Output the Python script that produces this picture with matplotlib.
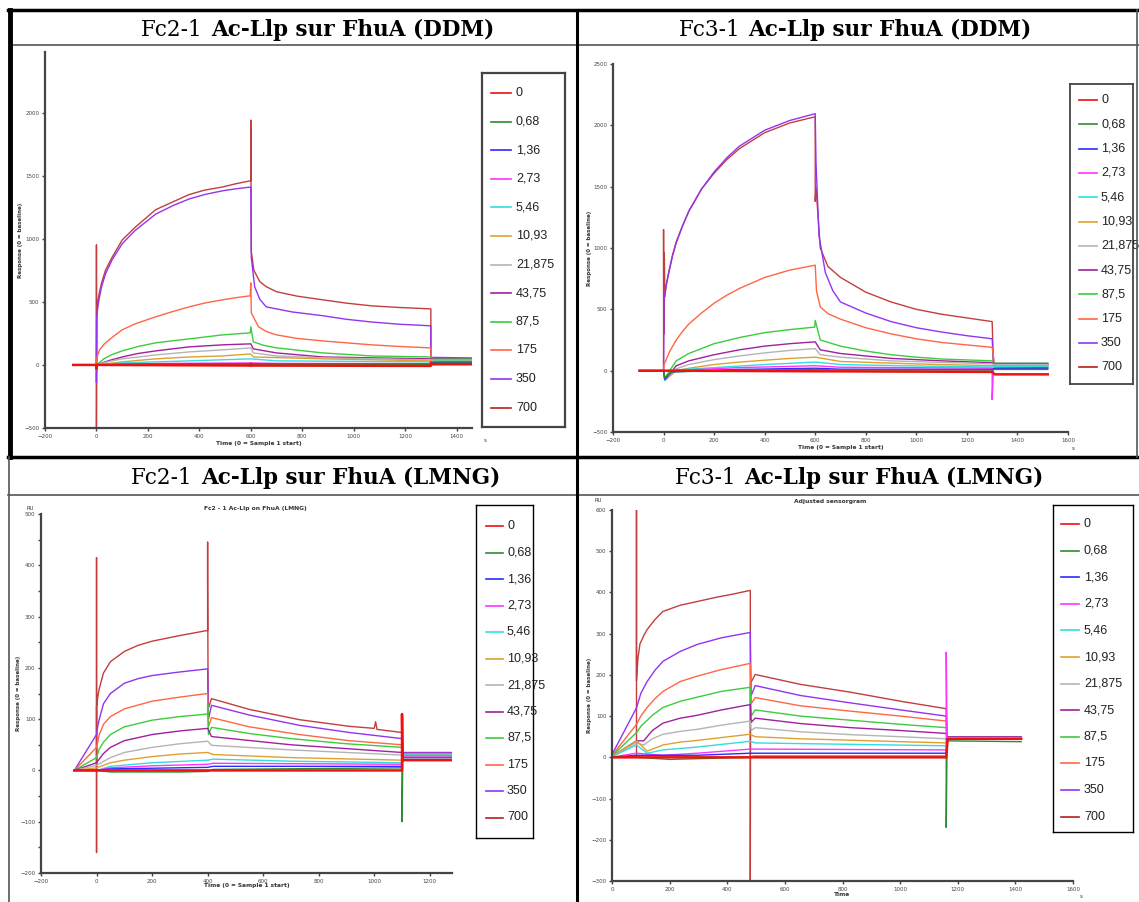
import matplotlib
matplotlib.use("Agg")
import matplotlib.pyplot as plt
from matplotlib.lines import Line2D

W, H = 1139, 902

# concentrations (legend labels) and their trace colours
conc = ["0", "0,68", "1,36", "2,73", "5,46", "10,93", "21,875", "43,75", "87,5", "175", "350", "700"]
colors = ["#ee1111", "#2e8b2e", "#2b2bff", "#ff33ff", "#33dddd", "#e0a030",
          "#b4b4b4", "#a020a0", "#3ccc3c", "#ff6644", "#9433f0", "#b81c1c"]

# --- Fc2-1 DDM : (time s, response RU) per concentration
ddm2 = [
    [(-90, 0), (0, 0), (0, -30), (2, 0), (600, -5), (600, 10), (602, -5), (1300, -8), (1300, 20), (1305, 5), (1460, 5)],
    [(-90, 0), (0, 0), (100, 2), (300, 4), (600, 5), (610, 3), (1300, 2), (1310, 15), (1460, 15)],
    [(-90, 0), (0, 0), (100, 4), (300, 6), (600, 8), (700, 6), (1300, 5), (1310, 20), (1460, 20)],
    [(-90, 0), (0, 0), (100, 8), (300, 12), (600, 16), (700, 12), (1300, 10), (1310, 25), (1460, 25)],
    [(-90, 0), (0, 0), (100, 16), (360, 32), (600, 48), (700, 32), (1000, 28), (1300, 24), (1310, 30), (1460, 30)],
    [(-90, 0), (0, 0), (100, 24), (230, 48), (360, 63), (490, 71), (600, 87), (610, 63), (880, 48), (1300, 32), (1310, 35), (1460, 35)],
    [(-90, 0), (0, 0), (50, 28), (100, 48), (230, 79), (360, 103), (490, 119), (600, 135), (610, 95), (700, 71), (880, 56), (1300, 40), (1310, 40), (1460, 40)],
    [(-90, 0), (0, 0), (50, 35), (100, 63), (160, 90), (230, 111), (360, 143), (490, 159), (600, 167), (610, 127), (700, 95), (880, 63), (1070, 56), (1300, 48), (1310, 45), (1460, 45)],
    [(-90, 0), (0, 0), (30, 50), (60, 82), (100, 111), (160, 145), (230, 175), (300, 192), (360, 206), (490, 238), (598, 254), (600, 302), (610, 183), (650, 155), (700, 135), (880, 95), (1070, 71), (1300, 63), (1310, 50), (1460, 50)],
    [(-90, 0), (0, 0), (2, 60), (12, 120), (30, 165), (50, 200), (75, 240), (100, 278), (150, 325), (230, 381), (300, 425), (360, 460), (420, 490), (490, 516), (550, 535), (598, 548), (600, 650), (602, 413), (630, 302), (660, 265), (700, 238), (780, 210), (880, 190), (1070, 159), (1180, 146), (1300, 135), (1300, 45), (1460, 45)],
    [(-90, 0), (0, 0), (0, -140), (1, 380), (5, 450), (10, 520), (20, 620), (35, 720), (60, 830), (100, 960), (150, 1065), (230, 1195), (300, 1265), (360, 1315), (420, 1350), (490, 1380), (540, 1395), (600, 1410), (602, 850), (615, 620), (635, 520), (660, 460), (760, 420), (880, 390), (970, 362), (1070, 340), (1180, 322), (1300, 310), (1300, 60), (1460, 55)],
    [(-90, 0), (0, 0), (0, 950), (0, -500), (1, 430), (5, 500), (10, 560), (20, 650), (35, 750), (60, 850), (100, 990), (150, 1090), (230, 1230), (300, 1295), (360, 1350), (420, 1385), (490, 1410), (540, 1435), (600, 1460), (600, 1940), (602, 900), (612, 750), (635, 660), (660, 620), (700, 580), (780, 545), (880, 516), (970, 490), (1070, 468), (1180, 455), (1300, 444), (1300, 40), (1460, 40)],
]

# --- Fc3-1 DDM
ddm3 = [
    [(-95, 0), (0, 0), (600, -5), (1300, -10), (1310, -30), (1520, -30)],
    [(-95, 0), (0, 0), (5, -60), (30, -10), (300, 5), (600, 10), (700, 5), (1300, 5), (1310, 10), (1520, 10)],
    [(-95, 0), (0, 0), (5, -70), (30, -10), (300, 10), (600, 20), (700, 12), (1300, 10), (1310, 20), (1520, 20)],
    [(-95, 0), (0, 0), (5, -70), (40, 0), (300, 25), (600, 40), (700, 28), (1300, 20), (1300, -236), (1305, 20), (1520, 25)],
    [(-95, 0), (0, 0), (5, -80), (40, 5), (200, 25), (400, 50), (600, 70), (700, 50), (1000, 38), (1300, 30), (1310, 35), (1520, 35)],
    [(-95, 0), (0, 0), (5, -80), (50, 0), (100, 20), (200, 50), (300, 70), (400, 85), (500, 100), (600, 110), (700, 75), (1000, 55), (1300, 40), (1310, 40), (1520, 40)],
    [(-95, 0), (0, 0), (5, -80), (50, 15), (100, 50), (200, 90), (300, 120), (400, 145), (500, 165), (600, 180), (620, 130), (700, 110), (900, 80), (1300, 55), (1310, 50), (1520, 50)],
    [(-95, 0), (0, 0), (5, -80), (50, 40), (100, 80), (200, 130), (300, 170), (400, 200), (500, 220), (600, 235), (620, 170), (700, 140), (900, 100), (1100, 80), (1300, 65), (1310, 55), (1520, 55)],
    [(-95, 0), (0, 0), (5, -60), (50, 80), (100, 140), (200, 220), (300, 270), (400, 310), (500, 335), (598, 355), (600, 410), (620, 250), (700, 200), (800, 160), (900, 130), (1000, 110), (1100, 95), (1300, 80), (1310, 60), (1520, 60)],
    [(-95, 0), (0, 0), (2, 50), (25, 160), (50, 250), (75, 320), (100, 380), (150, 470), (200, 550), (250, 615), (300, 670), (400, 760), (500, 820), (600, 860), (605, 650), (620, 520), (650, 465), (700, 420), (800, 350), (900, 300), (1000, 260), (1100, 230), (1200, 210), (1300, 190), (1310, 50), (1520, 50)],
    [(-95, 0), (0, 0), (2, 580), (10, 690), (20, 790), (35, 930), (50, 1040), (75, 1180), (100, 1300), (150, 1480), (200, 1620), (250, 1735), (300, 1830), (400, 1960), (500, 2040), (600, 2095), (603, 1700), (615, 1100), (640, 800), (670, 650), (700, 560), (800, 470), (900, 400), (1000, 350), (1100, 315), (1200, 285), (1300, 260), (1305, 60), (1520, 60)],
    [(-95, 0), (0, 0), (0, 1150), (1, 300), (3, 960), (5, 600), (10, 690), (20, 800), (35, 940), (50, 1050), (75, 1180), (100, 1300), (150, 1480), (200, 1610), (250, 1720), (300, 1810), (400, 1940), (500, 2020), (600, 2070), (600, 1380), (603, 1500), (620, 1000), (650, 850), (700, 760), (800, 640), (900, 560), (1000, 500), (1100, 460), (1200, 430), (1300, 400), (1305, 40), (1520, 40)],
]

# --- Fc2-1 LMNG
lmng2 = [
    [(-80, 0), (0, 0), (400, 0), (1100, 0), (1100, 110), (1102, 20), (1280, 20)],
    [(-80, 0), (0, 0), (50, -3), (300, -3), (400, -2), (420, 2), (1100, 5), (1100, -100), (1103, 25), (1280, 25)],
    [(-80, 0), (0, 0), (50, 3), (400, 6), (420, 8), (1100, 8), (1103, 25), (1280, 25)],
    [(-80, 0), (0, 0), (50, 5), (200, 9), (400, 12), (420, 14), (1100, 12), (1103, 28), (1280, 28)],
    [(-80, 0), (0, 0), (50, 8), (200, 15), (400, 20), (420, 22), (700, 18), (1100, 15), (1103, 30), (1280, 30)],
    [(-80, 0), (0, 5), (50, 15), (100, 20), (200, 27), (300, 32), (400, 35), (420, 31), (700, 25), (1100, 20), (1103, 30), (1280, 30)],
    [(-80, 0), (0, 10), (50, 25), (100, 35), (200, 45), (300, 52), (400, 57), (414, 49), (700, 40), (1100, 30), (1103, 32), (1280, 32)],
    [(-80, 0), (0, 15), (25, 33), (50, 45), (100, 58), (200, 70), (300, 77), (400, 82), (414, 66), (700, 50), (1100, 35), (1103, 33), (1280, 33)],
    [(-80, 0), (0, 25), (10, 42), (25, 55), (50, 70), (100, 85), (200, 98), (300, 105), (400, 110), (400, 130), (403, 70), (414, 84), (550, 72), (700, 62), (900, 52), (1100, 45), (1103, 32), (1280, 32)],
    [(-80, 0), (0, 45), (10, 70), (25, 90), (50, 105), (100, 120), (200, 135), (300, 143), (400, 150), (403, 85), (414, 103), (550, 85), (730, 70), (910, 58), (1100, 50), (1103, 33), (1280, 33)],
    [(-80, 0), (0, 70), (5, 88), (10, 100), (25, 130), (50, 150), (100, 170), (150, 179), (200, 185), (300, 192), (400, 198), (403, 100), (414, 127), (550, 108), (730, 88), (910, 74), (1100, 62), (1103, 35), (1280, 35)],
    [(-80, 0), (0, 0), (0, 415), (0, -160), (0, 125), (5, 145), (10, 160), (25, 190), (50, 212), (100, 232), (150, 244), (200, 252), (300, 263), (400, 273), (400, 445), (400, 370), (402, 120), (414, 140), (550, 119), (730, 99), (910, 86), (1000, 82), (1005, 95), (1010, 80), (1100, 74), (1102, 20), (1280, 20)],
]

# --- Fc3-1 LMNG
lmng3 = [
    [(-5, 0), (85, 0), (480, 0), (1160, 0), (1165, 45), (1420, 45)],
    [(-5, 0), (85, 0), (200, -5), (480, 0), (490, 3), (1160, 3), (1160, -170), (1163, 40), (1420, 38)],
    [(-5, 0), (85, 5), (296, 5), (480, 10), (490, 10), (1160, 10), (1163, 45), (1420, 45)],
    [(-5, 0), (85, 10), (177, 5), (296, 10), (480, 20), (497, 20), (1160, 18), (1160, 255), (1163, 45), (1420, 45)],
    [(-5, 0), (85, 30), (122, 10), (177, 18), (296, 25), (480, 39), (497, 35), (1160, 28), (1163, 45), (1420, 45)],
    [(-5, 0), (85, 40), (122, 15), (177, 30), (237, 37), (296, 41), (380, 48), (480, 56), (497, 50), (654, 45), (1002, 38), (1160, 35), (1163, 45), (1420, 45)],
    [(-5, 0), (85, 35), (110, 30), (140, 45), (177, 56), (237, 63), (296, 68), (380, 78), (480, 88), (483, 65), (497, 72), (654, 62), (828, 55), (1002, 50), (1160, 45), (1163, 48), (1420, 48)],
    [(-5, 0), (85, 40), (110, 40), (140, 65), (177, 83), (237, 95), (296, 102), (380, 115), (480, 128), (483, 85), (497, 95), (654, 82), (828, 72), (1002, 65), (1160, 58), (1163, 50), (1420, 50)],
    [(-5, 0), (85, 60), (100, 75), (140, 102), (177, 121), (237, 136), (296, 146), (380, 160), (480, 170), (483, 100), (497, 115), (654, 100), (828, 90), (1002, 80), (1160, 72), (1163, 50), (1420, 50)],
    [(-5, 0), (85, 80), (100, 100), (122, 121), (150, 143), (177, 160), (237, 184), (296, 197), (380, 213), (480, 228), (483, 130), (497, 145), (654, 125), (828, 112), (1002, 100), (1160, 88), (1163, 48), (1420, 48)],
    [(-5, 0), (85, 120), (100, 155), (122, 184), (150, 212), (177, 233), (237, 257), (296, 274), (380, 290), (480, 303), (483, 150), (497, 174), (654, 150), (828, 132), (1002, 115), (1160, 100), (1163, 45), (1420, 45)],
    [(-5, 0), (85, 0), (85, 600), (85, 185), (90, 240), (97, 275), (110, 295), (122, 310), (150, 335), (177, 354), (237, 369), (296, 378), (360, 388), (420, 396), (480, 405), (480, -300), (481, 180), (497, 201), (654, 177), (828, 158), (1002, 136), (1160, 118), (1163, 48), (1420, 48)],
]

titles = ["Fc2-1", "Fc3-1", "Fc2-1", "Fc3-1"]
titles_bold = ["Ac-Llp sur FhuA (DDM)", "Ac-Llp sur FhuA (DDM)", "Ac-Llp sur FhuA (LMNG)", "Ac-Llp sur FhuA (LMNG)"]

fig = plt.figure(figsize=(W / 100, H / 100), dpi=100)


def fx(x):
    return x / W


def fy(y):
    return 1 - y / H


def hline(y, x0, x1, lw, c="black"):
    fig.add_artist(Line2D([fx(x0), fx(x1)], [fy(y), fy(y)], lw=lw, color=c))


def vline(x, y0, y1, lw, c="black"):
    fig.add_artist(Line2D([fx(x), fx(x)], [fy(y0), fy(y1)], lw=lw, color=c))


# table-like frame
hline(10, 8, 1139, 2.5)
hline(45, 10, 1139, 1.2, "#555555")
hline(457, 8, 1139, 2.5)
hline(495, 8, 1139, 1.2, "#555555")
vline(10, 10, 457, 3.5)
vline(9, 457, 902, 1.2, "#555555")
vline(577, 10, 902, 2.2)
vline(1137, 10, 457, 1.2, "#555555")

# headers
head_pos = [(203, 30), (740, 30), (193, 478), (736, 478)]
for (x, y), t1, t2 in zip(head_pos, titles, titles_bold):
    fig.text(fx(x), fy(y), t1, ha="right", va="center", family="DejaVu Serif", fontsize=15.5)
    fig.text(fx(x + 8), fy(y), t2, ha="left", va="center", family="DejaVu Serif", fontsize=15.5, fontweight="bold")


def make_axes(box, xlim, ylim, xticks, yticks, data, ylab_x, xlab, xlab_y, s_pos=None, minor=None):
    l, t, r, b = box
    ax = fig.add_axes([fx(l), fy(b), (r - l) / W, (b - t) / H])
    for pts, c, i in reversed(list(zip(data, colors, range(12)))):
        tt = [p[0] for p in pts]
        vv = [p[1] for p in pts]
        ax.plot(tt, vv, color=c, lw=1.8 if i == 0 else 1.0, alpha=0.85 if i == 11 else 1.0)
    ax.set_xlim(*xlim)
    ax.set_ylim(*ylim)
    ax.set_xticks(xticks)
    ax.set_yticks(yticks)
    if minor is not None:
        ax.set_yticks(minor, minor=True)
    for s in ["top", "right"]:
        ax.spines[s].set_visible(False)
    for s in ["left", "bottom"]:
        ax.spines[s].set_color("#444444")
        ax.spines[s].set_linewidth(1.6)
    ax.tick_params(labelsize=4, colors="#444444", length=2.5, width=1, pad=1.5)
    ax.tick_params(which="minor", length=2, width=1, colors="#444444")
    fig.text(fx(ylab_x), fy((t + b) / 2), "Response (0 = baseline)", rotation=90, ha="center",
             va="center", fontsize=4, fontweight="bold", color="#333333")
    fig.text(fx((l + r) / 2), fy(xlab_y), xlab, ha="center", va="center", fontsize=4.2,
             fontweight="bold", color="#333333")
    if s_pos is not None:
        fig.text(fx(s_pos[0]), fy(s_pos[1]), "s", fontsize=4, color="#333333", va="center")
    return ax


make_axes((45, 52, 472, 428), (-200, 1460), (-500, 2480), range(-200, 1401, 200),
          range(-500, 2001, 500), ddm2, 21, "Time (0 = Sample 1 start)", 443, (484, 441))
make_axes((613, 64, 1068, 432), (-200, 1600), (-500, 2500), range(-200, 1601, 200),
          range(-500, 2501, 500), ddm3, 590, "Time (0 = Sample 1 start)", 448, (1072, 449))
make_axes((41, 514, 452, 873), (-200, 1280), (-200, 500), range(-200, 1201, 200),
          range(-200, 501, 100), lmng2, 19, "Time (0 = Sample 1 start)", 885,
          minor=range(-150, 500, 100))
make_axes((612, 510, 1073, 881), (0, 1600), (-300, 600), range(0, 1601, 200),
          range(-300, 601, 100), lmng3, 590, "Time", 895, (1080, 897))

fig.text(fx(255), fy(508), "Fc2 - 1 Ac-Llp on FhuA (LMNG)", ha="center", va="center", fontsize=4.3,
         fontweight="bold", color="#333333")
fig.text(fx(830), fy(502), "Adjusted sensorgram", ha="center", va="center", fontsize=4.3,
         fontweight="bold", color="#333333")
fig.text(fx(30), fy(508), "RU", ha="center", va="center", fontsize=3.8, color="#333333")
fig.text(fx(598), fy(501), "RU", ha="center", va="center", fontsize=3.8, color="#333333")

# legends: box, first entry y, step, line x0, x1, text x
legends = [
    ((482, 73, 565, 427), 93, 28.6, 491, 511, 516, 1.6, "#444444"),
    ((1070, 84, 1133, 384), 100, 24.3, 1079, 1097, 1101, 1.3, "#444444"),
    ((476, 505, 533, 838), 526, 26.5, 486, 503, 507, 1.0, "black"),
    ((1053, 505, 1133, 832), 524, 26.6, 1061, 1079, 1084, 1.0, "black"),
]
for (l, t, r, b), y0, step, lx0, lx1, tx, blw, bc in legends:
    lax = fig.add_axes([fx(l), fy(b), (r - l) / W, (b - t) / H])
    lax.set_xlim(l, r)
    lax.set_ylim(b, t)
    lax.set_xticks([])
    lax.set_yticks([])
    for s in lax.spines.values():
        s.set_linewidth(blw)
        s.set_color(bc)
    for i, (lab, c) in enumerate(zip(conc, colors)):
        y = y0 + i * step
        lax.plot([lx0, lx1], [y, y], color=c, lw=1.2)
        lax.text(tx, y, lab, va="center", ha="left", fontsize=9, family="Liberation Sans", color="#222222")

fig.savefig("out.png", dpi=100)
